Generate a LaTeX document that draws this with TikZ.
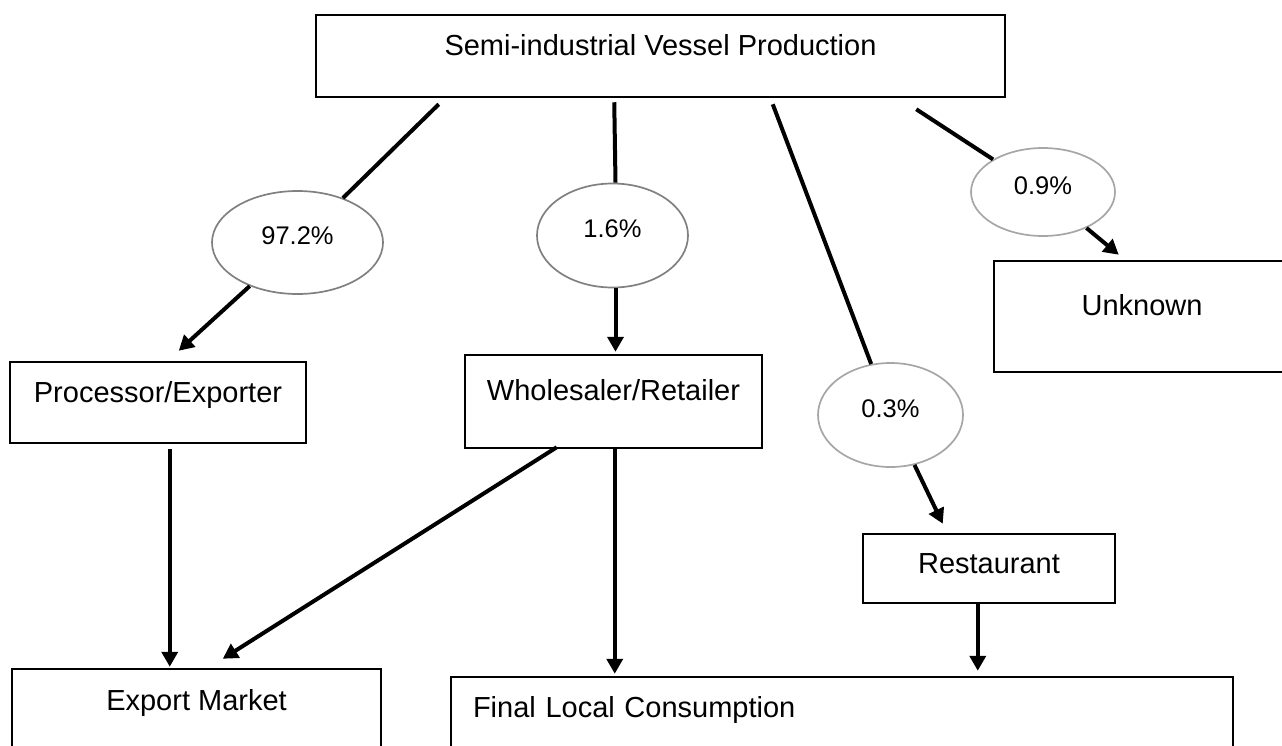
\documentclass[tikz,border=0pt]{standalone}
\usepackage{fontspec}
\setmainfont{Liberation Sans}
\usetikzlibrary{shapes.geometric,arrows.meta,calc}
\begin{document}
\begin{tikzpicture}[x=1pt,y=-1pt,
    box/.style={draw,rectangle,line width=2.5pt,inner sep=0pt,font=\fontsize{29}{34}\selectfont},
    pct/.style={draw,ellipse,line width=1.7pt,inner sep=0pt,text height=12pt,text depth=7.8pt,font=\fontsize{25.5}{30}\selectfont},
    flow/.style={line width=4pt},
    arr/.style={flow,-{Triangle[length=15pt,width=16pt]}}]
        \clip (0,0) rectangle (1282,745);
        \node[box,minimum width=689pt,text height=40.4pt,text depth=41.6pt] (prod) at (660.5,56){Semi-industrial Vessel Production};
        \node[box,minimum width=296pt,text height=40.4pt,text depth=40.6pt] (proc) at (158,402.5){Processor/Exporter};
        \node[box,minimum width=297pt,text height=45.4pt,text depth=47.6pt] (whole) at (613.5,401.5){Wholesaler/Retailer};
        \node[box,minimum width=296pt,text height=54pt,text depth=57pt] (unk) at (1142,316.5){Unknown};
        \node[box,minimum width=252pt,text height=39pt,text depth=30pt] (rest) at (989,568.5){Restaurant};
        \node[box,minimum width=369pt,text height=41pt,text depth=90pt] (exp) at (196.5,734.5){Export Market};
        \node[box,text width=738pt,inner xsep=22pt,align=left,text height=40pt,text depth=83pt] (final) at (842,738.5){Final Local Consumption};
        \node[pct,black!50,text=black,minimum width=171pt,minimum height=103pt] (e972) at (297.5,242.5){97.2\%};
        \node[pct,black!50,text=black,minimum width=151pt,minimum height=104pt] (e16) at (612.5,235.5){1.6\%};
        \node[pct,black!35,text=black,minimum width=144pt,minimum height=88pt] (e09) at (1043,192){0.9\%};
        \node[pct,black!35,text=black,minimum width=145pt,minimum height=104pt] (e03) at (890.5,415){0.3\%};
        \draw[flow] ($(prod.south west)+(124,6)$) to (e972);
        \draw[arr] (e972) to ($(proc.north west)+(170,-10)$);
        \draw[flow] ($(prod.south west)+(299.5,4)$) to ($(e16.north)+(3,0)$);
        \draw[arr] ($(e16.south)+(3,0)$) to ($(e16.south |- whole.north)+(3,-2)$);
        \draw[flow] ($(prod.south west)+(458,6)$) to (e03);
        \draw[arr] (e03) to ($(rest.north west)+(81,-9)$);
        \draw[flow] ($(prod.south east)+(-90,11)$) to (e09);
        \draw[arr] (e09) to ($(unk.north west)+(126,-5)$);
        \draw[arr] ($(proc.south west)+(161,5)$) to ($(exp.north west)+(159,-1)$);
        \draw[arr] ($(whole.south west)+(93,-2)$) to ($(exp.north west)+(212,-9)$);
        \draw[arr] ($(whole.south west)+(151,-1)$) to ($(final.north west)+(165,-2)$);
        \draw[arr] ($(rest.south west)+(116,0)$) to ($(final.north west)+(528,-5)$);
    \end{tikzpicture}
\end{document}
